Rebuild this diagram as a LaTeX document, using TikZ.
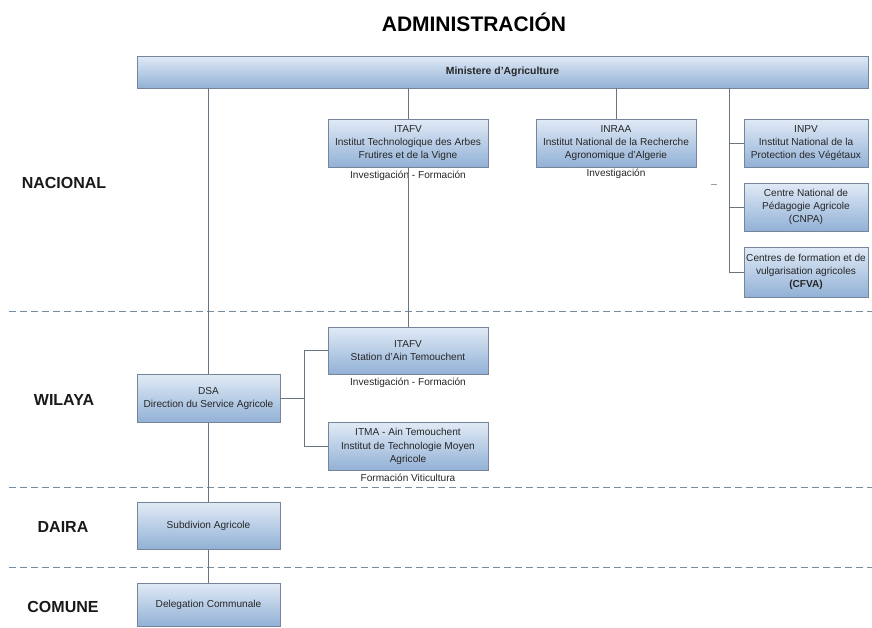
\documentclass[tikz,border=0pt]{standalone}
\usepackage{fontspec}
\setmainfont{Liberation Sans}
\definecolor{boxtop}{RGB}{224,234,246}
\definecolor{boxbot}{RGB}{146,177,214}
\definecolor{boxedge}{RGB}{118,134,152}
\definecolor{linec}{RGB}{105,118,130}
\definecolor{dashc}{RGB}{120,140,160}
\tikzset{
  orgbox/.style={draw=boxedge, line width=0.8pt, top color=boxtop, bottom color=boxbot,
    align=center, text=black!85, font=\fontsize{10.1}{13.2}\selectfont, inner sep=0pt},
  conn/.style={draw=linec, line width=0.8pt},
  sepline/.style={draw=dashc, line width=0.9pt, dash pattern=on 7pt off 4pt},
  levellabel/.style={font=\fontsize{16}{18}\selectfont\bfseries, text=black!90},
  note/.style={font=\fontsize{10.1}{12}\selectfont, text=black!85, inner sep=0pt},
}
\begin{document}
\begin{tikzpicture}[x=1pt,y=-1pt]
\useasboundingbox (0,0) rectangle (872,627);

% title and level labels
\node[font=\fontsize{21}{24}\selectfont\bfseries] (title) at (474,22) {ADMINISTRACIÓN};
\node[levellabel] (nac) at (64,183) {NACIONAL};
\node[levellabel] (wil) at (64,400) {WILAYA};
\node[levellabel] (dai) at (63,527) {DAIRA};
\node[levellabel] (com) at (63,607) {COMUNE};

% separators
\draw[sepline] (9,311) -- (872,311);
\draw[sepline] (9,487) -- (872,487);
\draw[sepline] (9,567) -- (872,567);

% boxes
\node[orgbox, minimum width=731pt, minimum height=32pt, font=\fontsize{10.4}{12}\selectfont\bfseries] (mini) at (502.5,72) {Ministere d'Agriculture};
\node[orgbox, minimum width=160pt, minimum height=48pt] (itafv) at (408,143) {ITAFV\\Institut Technologique des Arbes\\Frutires et de la Vigne};
\node[orgbox, minimum width=160pt, minimum height=48pt] (inraa) at (616,143) {INRAA\\Institut National de la Recherche\\Agronomique d'Algerie};
\node[orgbox, minimum width=124pt, minimum height=48pt] (inpv) at (806,143) {INPV\\Institut National de la\\Protection des Végétaux};
\node[orgbox, minimum width=124pt, minimum height=48pt] (cnpa) at (806,207) {Centre National de\\Pédagogie Agricole\\(CNPA)};
\node[orgbox, minimum width=124pt, minimum height=50pt] (cfva) at (806,272) {Centres de formation et de\\vulgarisation agricoles\\\textbf{(CFVA)}};
\node[orgbox, minimum width=143pt, minimum height=48pt] (dsa) at (208.5,398.5) {DSA\\Direction du Service Agricole};
\node[orgbox, minimum width=160pt, minimum height=47pt] (station) at (408,350.5) {ITAFV\\Station d'Ain Temouchent};
\node[orgbox, minimum width=160pt, minimum height=48pt] (itma) at (408,446.5) {ITMA - Ain Temouchent\\Institut de Technologie Moyen\\Agricole};
\node[orgbox, minimum width=143pt, minimum height=47pt] (subd) at (208.5,526) {Subdivion Agricole};
\node[orgbox, minimum width=143pt, minimum height=43pt] (deleg) at (208.5,604.5) {Delegation Communale};

% notes under boxes
\node[note] (n1) at (408,176) {Investigación - Formación};
\node[note] (n2) at (616,173.5) {Investigación};
\node[note] (n3) at (408,383) {Investigación - Formación};
\node[note] (n4) at (408,477.5) {Formación Viticultura};

% connectors
\coordinate (bus) at (729,88);
\coordinate (fork) at (304,398.5);
\draw[conn] (dsa.north |- mini.south) -- (dsa.north);
\draw[conn] (itafv.north |- mini.south) -- (itafv.north);
\draw[conn] (inraa.north |- mini.south) -- (inraa.north);
\draw[conn] (bus) -- (bus |- cfva.west) -- (cfva.west);
\draw[conn] (bus |- inpv.west) -- (inpv.west);
\draw[conn] (bus |- cnpa.west) -- (cnpa.west);
\draw[conn] (itafv.south) -- (station.north);
\draw[conn] (dsa.east) -- (fork);
\draw[conn] (station.west) -- (station.west -| fork) -- (itma.west -| fork) -- (itma.west);
\draw[conn] (dsa.south) -- (subd.north);
\draw[conn] (subd.south) -- (deleg.north);

% stray mark
\draw[draw=linec!70, line width=0.7pt] (711,184) -- (717,184);
\end{tikzpicture}
\end{document}
